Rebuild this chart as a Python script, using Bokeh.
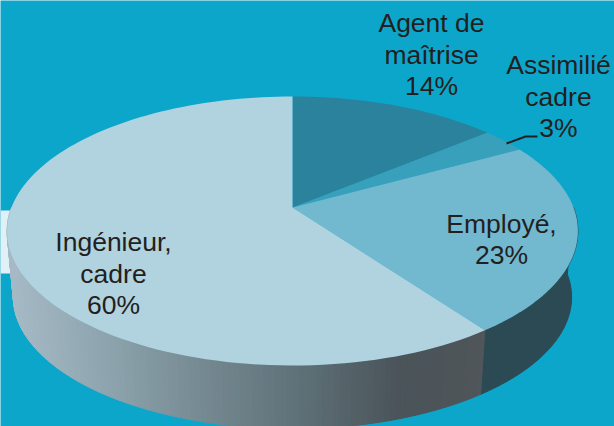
import numpy as np
from bokeh.plotting import figure
from bokeh.models import Range1d
from bokeh.core.properties import value
from bokeh.embed import file_html
from bokeh.resources import INLINE

categories = ["Agent de\nmaîtrise", "Assimilié\ncadre", "Employé,", "Ingénieur,\ncadre"]
shares = [14, 3, 23, 60]
slice_colors = ["#2a829c", "#39a0bc", "#72b8cf", "#b1d2df"]

BG = "#0ca6cb"
INK = "#231f20"
CX, CY = 292.0, 207.0
TILT, AX, AY = 0.1747, 281.0, 130.4      # perspective of the pie disc
SHRINK, DEPTH = 0.978, 66.7              # lower rim of the extruded side
W, H = 614, 426
FONT = 26.5


def rim(deg):
    t = np.radians(deg)
    u, v = np.sin(t), np.cos(t)
    d = 1 + TILT * v
    return CX + AX * u / d, CY - AY * v / d


def lower(deg):
    x, y = rim(deg)
    return CX + SHRINK * (x - CX), CY + SHRINK * (y - CY) + DEPTH


GRAD_X = [0, 12, 100, 200, 300, 400, 482]
GRAD_RGB = np.array([[166, 186, 197], [166, 186, 197], [143, 166, 176],
                     [118, 138, 146], [95, 113, 120], [74, 84, 89], [80, 86, 90]], float)


def shade(x):
    r, g, b = (int(np.interp(x, GRAD_X, GRAD_RGB[:, i])) for i in range(3))
    return f"#{r:02x}{g:02x}{b:02x}"


p = figure(width=W, height=H, x_range=Range1d(0, W), y_range=Range1d(H, 0),
           output_backend="svg", toolbar_location=None, min_border=0,
           background_fill_color=BG, border_fill_color=BG, outline_line_color=None)
p.axis.visible = False
p.grid.visible = False

# pale band behind the pie, left edge of the page
p.quad(left=[0], right=[30], top=[210], bottom=[273], fill_color="#dff0f6", line_color=None)

edges = np.cumsum([0] + shares) * 3.6

# side wall: employee slice (flat dark), then the engineer slice (gradient strips)
a0, a1 = 90.0, edges[3]
ts = np.linspace(a0, a1, 50)
xs = list(rim(ts)[0]) + list(lower(ts)[0][::-1])
ys = list(rim(ts)[1]) + list(lower(ts)[1][::-1])
p.patch(xs, ys, fill_color="#2c4a53", line_color="#2c4a53")

ts = np.arange(edges[3], 270.01, 1.0)
sx, sy, sc = [], [], []
for t0, t1 in zip(ts[:-1], ts[1:]):
    pair = np.array([t0, t1])
    rx, ry = rim(pair)
    lx, ly = lower(pair)
    sx.append([rx[0], rx[1], lx[1], lx[0]])
    sy.append([ry[0], ry[1], ly[1], ly[0]])
    sc.append(shade((rx[0] + rx[1]) / 2))
p.patches(sx, sy, fill_color=sc, line_color=sc)

# top of the disc
for start, stop, color in zip(edges[:-1], edges[1:], slice_colors):
    ts = np.linspace(start, stop, 120)
    x, y = rim(ts)
    p.patch([CX, *x], [CY, *y], fill_color=color, line_color=None)

# labels
labels = [f"{c}\n{s}%" for c, s in zip(categories, shares)]
anchors = [(431, 54), (558, 96), (501, 239), (113, 273)]
for text, (x, y) in zip(labels, anchors):
    p.text([x], [y], text=[text], text_align="center", text_baseline="middle",
           text_font=value("Liberation Sans"), text_font_size=f"{FONT}px",
           text_color=INK, text_line_height=1.05)

# leader line of the small slice
p.line([506, 525, 537], [143, 136, 136], line_color=INK, line_width=2)

open("out.html", "w").write(file_html(p, INLINE))
